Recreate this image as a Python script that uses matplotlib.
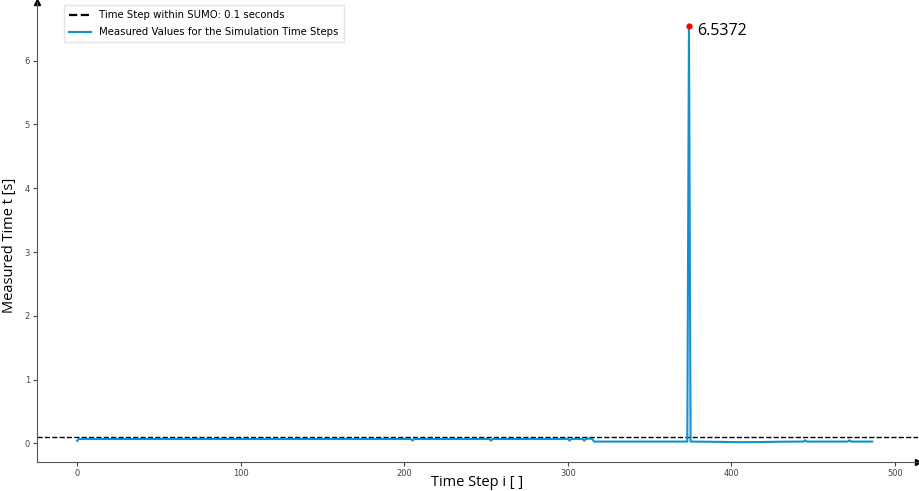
import matplotlib.pyplot as plt

# key points of the measured time per simulation step
steps = [0, 1, 204, 205, 206, 252, 253, 254, 300, 301, 302, 309, 310, 311, 313, 315, 316,
         373, 374, 375, 376, 395, 405, 415, 430, 444, 445, 446, 471, 472, 473, 486]
times = [0.04, 0.07, 0.07, 0.045, 0.07, 0.07, 0.045, 0.07, 0.07, 0.045, 0.07, 0.07, 0.045, 0.07, 0.078, 0.07, 0.03,
         0.03, 6.5372, 0.03, 0.03, 0.025, 0.02, 0.022, 0.028, 0.03, 0.05, 0.03, 0.03, 0.05, 0.03, 0.03]
sumo_step = 0.1
peak_step = 374
peak_value = 6.5372

fig = plt.figure(figsize=(9.2, 4.91), dpi=100)
ax = fig.add_axes([37 / 920, 29 / 491, 881 / 920, 460 / 491])

ax.axhline(sumo_step, color="black", linestyle="--", linewidth=1.0,
           label="Time Step within SUMO: 0.1 seconds")
ax.plot(steps, times, color="#1490d0", linewidth=1.5,
        label="Measured Values for the Simulation Time Steps")
ax.plot(peak_step, peak_value, "o", color="red", markersize=3.5, zorder=5)
ax.annotate(f"{peak_value}", xy=(peak_step, peak_value), xytext=(6, -3),
            textcoords="offset points", fontsize=11.5, family="Open Sans", va="center")

ax.set_xlim(-24.5, 514)
ax.set_ylim(-0.29, 6.92)
ax.set_xticks([0, 100, 200, 300, 400, 500])
ax.set_yticks([0, 1, 2, 3, 4, 5, 6])

for s in ["top", "right"]:
    ax.spines[s].set_visible(False)
for s in ["left", "bottom"]:
    ax.spines[s].set_color("#555555")
ax.plot(1, 0, ">", color="black", markersize=4, transform=ax.transAxes, clip_on=False)
ax.plot(0, 1, "^", color="black", markersize=4, transform=ax.transAxes, clip_on=False)

ax.tick_params(labelsize=6, colors="#444444", length=3, pad=2)
fig.text(477 / 920, 1 - 483 / 491, "Time Step i [ ]", fontsize=10.5, family="Open Sans",
         ha="center", va="center")
fig.text(10 / 920, 0.5, "Measured Time t [s]", fontsize=10.5, family="Open Sans",
         ha="center", va="center", rotation=90)

leg = ax.legend(loc="upper left", bbox_to_anchor=(0.027, 1.0), fontsize=7.3, frameon=True,
                fancybox=False, edgecolor="#dddddd", handlelength=2.2, borderaxespad=0.3,
                labelspacing=0.7, borderpad=0.5)
for h in leg.get_lines():
    h.set_linewidth(1.6)

fig.savefig("out.png", dpi=100)
